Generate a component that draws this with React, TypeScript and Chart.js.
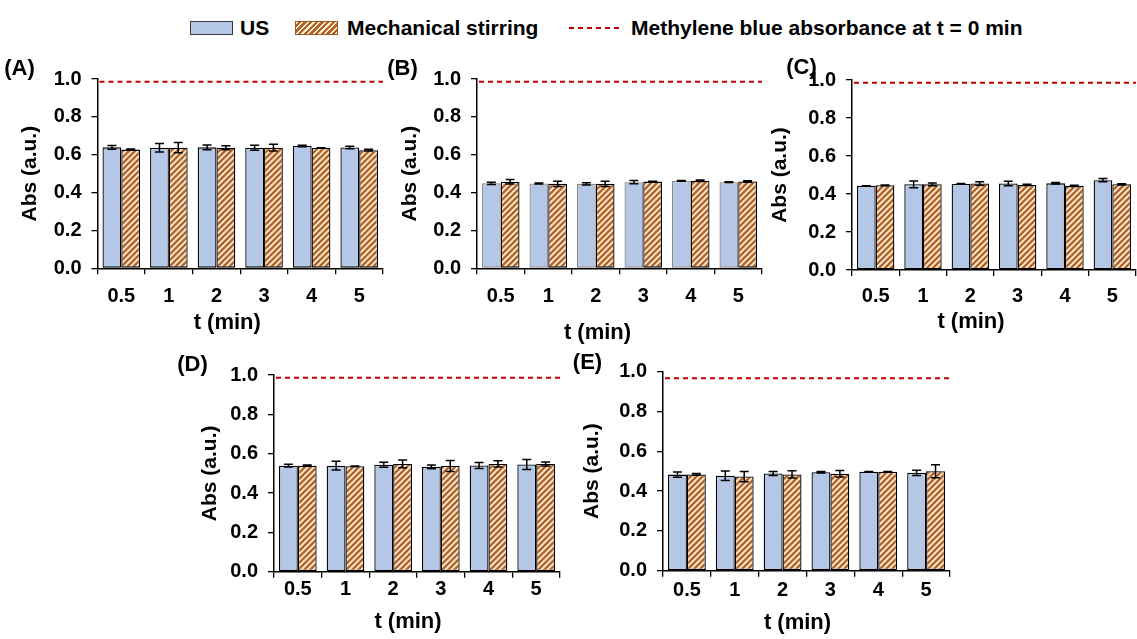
import React, { useEffect, useRef } from 'react';
import { Chart, registerables } from 'chart.js';

Chart.register(...registerables);

// ---------------- DATA ----------------
const categories = ['0.5', '1', '2', '3', '4', '5'];
const yTickValues = [0, 0.2, 0.4, 0.6, 0.8, 1.0];

const usA = [0.639, 0.637, 0.639, 0.637, 0.646, 0.638];
const usErrA = [0.010, 0.022, 0.013, 0.013, 0.004, 0.007];
const msA = [0.627, 0.637, 0.637, 0.637, 0.636, 0.624];
const msErrA = [0.003, 0.027, 0.011, 0.018, 0.001, 0.005];

const usB = [0.449, 0.448, 0.446, 0.455, 0.462, 0.455];
const usErrB = [0.006, 0.003, 0.006, 0.009, 0.002, 0.002];
const msB = [0.457, 0.446, 0.446, 0.458, 0.463, 0.459];
const msErrB = [0.012, 0.014, 0.014, 0.002, 0.004, 0.004];

const usC = [0.443, 0.451, 0.453, 0.455, 0.456, 0.473];
const usErrC = [0.001, 0.018, 0.002, 0.012, 0.004, 0.008];
const msC = [0.446, 0.451, 0.455, 0.448, 0.443, 0.451];
const msErrC = [0.002, 0.007, 0.009, 0.003, 0.003, 0.003];

const usD = [0.539, 0.539, 0.544, 0.533, 0.540, 0.545];
const usErrD = [0.007, 0.022, 0.013, 0.009, 0.015, 0.025];
const msD = [0.539, 0.536, 0.548, 0.537, 0.548, 0.548];
const msErrD = [0.003, 0.001, 0.020, 0.028, 0.016, 0.010];

const usE = [0.483, 0.477, 0.489, 0.495, 0.497, 0.492];
const usErrE = [0.013, 0.024, 0.010, 0.004, 0.001, 0.013];
const msE = [0.484, 0.473, 0.484, 0.487, 0.497, 0.500];
const msErrE = [0.004, 0.026, 0.018, 0.016, 0.001, 0.033];

// methylene blue absorbance at t = 0 min (reference line)
const refValues = [0.985, 0.985, 0.985, 0.986, 0.967];

const panelLabels = ['(A)', '(B)', '(C)', '(D)', '(E)'];
const seriesNames = ['US', 'Mechanical stirring'];
const refName = 'Methylene blue absorbance at t = 0 min';
const xTitle = 't (min)';
const yTitle = 'Abs (a.u.)';

const panelData = [
  { us: usA, usErr: usErrA, ms: msA, msErr: msErrA },
  { us: usB, usErr: usErrB, ms: msB, msErr: msErrB },
  { us: usC, usErr: usErrC, ms: msC, msErr: msErrC },
  { us: usD, usErr: usErrD, ms: msD, msErr: msErrD },
  { us: usE, usErr: usErrE, ms: msE, msErr: msErrE },
];

// ---------------- LAYOUT / STYLE ----------------
const FONT = "'Liberation Sans', Arial, Helvetica, sans-serif";
const US_COLOR = '#B4C7E7';
const HATCH_BG = '#FFF0DC';
const HATCH_FG = '#B4662A';
const REF_COLOR = '#C00000';

// box = canvas rect on page; area = desired chart area on page
const layouts = [
  { box: { x: 0, y: 46, w: 386, h: 303 }, area: { l: 97.5, r: 383, t: 79, b: 268.3 }, label: { dx: -78, dy: -10 }, yT: 67.5, xT: { dx: -13, dy: 55 }, xPad: 10, usBorder: '#000' },
  { box: { x: 380, y: 46, w: 385, h: 303 }, area: { l: 477, r: 762, t: 79, b: 268.3 }, label: { dx: -74.5, dy: -10 }, yT: 67, xT: { dx: -22, dy: 65 }, xPad: 10, usBorder: '#8a8a8a' },
  { box: { x: 765, y: 46, w: 372, h: 303 }, area: { l: 852, r: 1136, t: 80, b: 270 }, label: { dx: -50.5, dy: -12 }, yT: 72, xT: { dx: -23, dy: 52 }, xPad: 8, usBorder: '#000' },
  { box: { x: 165, y: 343, w: 398, h: 296 }, area: { l: 274, r: 560, t: 375, b: 571.7 }, label: { dx: -81.5, dy: -10 }, yT: 64, xT: { dx: -9, dy: 50 }, xPad: 0, usBorder: '#000' },
  { box: { x: 563, y: 340, w: 390, h: 299 }, area: { l: 663, r: 950, t: 371.7, b: 570.7 }, label: { dx: -75.5, dy: -9 }, yT: 71, xT: { dx: -9, dy: 52 }, xPad: 2, usBorder: '#000' },
];

function makeHatch(): CanvasPattern | string {
  const s = 6;
  const c = document.createElement('canvas');
  c.width = s;
  c.height = s;
  const g = c.getContext('2d');
  if (!g) return HATCH_FG;
  g.fillStyle = HATCH_BG;
  g.fillRect(0, 0, s, s);
  g.strokeStyle = HATCH_FG;
  g.lineWidth = 2.5;
  g.beginPath();
  g.moveTo(-1, s + 1);
  g.lineTo(s + 1, -1);
  g.moveTo(-1, 1);
  g.lineTo(1, -1);
  g.moveTo(s - 1, s + 1);
  g.lineTo(s + 1, s - 1);
  g.stroke();
  return g.createPattern(c, 'repeat') || HATCH_FG;
}

const errorBarPlugin = {
  id: 'errorBars',
  afterDatasetsDraw(chart: any, _args: any, opts: any) {
    const errs: number[][] = opts.errors || [];
    const ctx = chart.ctx;
    const ys = chart.scales.y;
    chart.data.datasets.forEach((ds: any, i: number) => {
      const e = errs[i];
      if (!e) return;
      const meta = chart.getDatasetMeta(i);
      meta.data.forEach((bar: any, j: number) => {
        const v = ds.data[j];
        const top = ys.getPixelForValue(v + e[j]);
        const bot = ys.getPixelForValue(v - e[j]);
        const x = bar.x;
        ctx.save();
        ctx.strokeStyle = '#000';
        ctx.lineWidth = 1.5;
        ctx.beginPath();
        ctx.moveTo(x, top);
        ctx.lineTo(x, bot);
        ctx.moveTo(x - 4.5, top);
        ctx.lineTo(x + 4.5, top);
        ctx.moveTo(x - 4.5, bot);
        ctx.lineTo(x + 4.5, bot);
        ctx.stroke();
        ctx.restore();
      });
    });
  },
};

const refLinePlugin = {
  id: 'refLine',
  afterDatasetsDraw(chart: any, _args: any, opts: any) {
    const ys = chart.scales.y;
    const a = chart.chartArea;
    const y = ys.getPixelForValue(opts.value);
    const ctx = chart.ctx;
    ctx.save();
    ctx.strokeStyle = REF_COLOR;
    ctx.lineWidth = 2;
    ctx.setLineDash([5, 4]);
    ctx.beginPath();
    ctx.moveTo(a.left + 2, y);
    ctx.lineTo(a.right, y);
    ctx.stroke();
    ctx.restore();
  },
};

const panelTextPlugin = {
  id: 'panelText',
  afterDraw(chart: any, _args: any, opts: any) {
    const ctx = chart.ctx;
    const a = chart.chartArea;
    ctx.save();
    ctx.fillStyle = '#000';
    ctx.textAlign = 'center';
    ctx.textBaseline = 'middle';
    ctx.font = `bold 22px ${FONT}`;
    ctx.fillText(opts.label, a.left + opts.labelDx, a.top + opts.labelDy);
    ctx.font = `bold 22px ${FONT}`;
    ctx.fillText(opts.xTitle, (a.left + a.right) / 2 + opts.xDx, a.bottom + opts.xDy);
    ctx.translate(a.left - opts.yDx, (a.top + a.bottom) / 2);
    ctx.rotate(-Math.PI / 2);
    ctx.font = `bold 21px ${FONT}`;
    ctx.fillText(opts.yTitle, 0, 0);
    ctx.restore();
  },
};

function Panel({ index }: { index: number }) {
  const ref = useRef<HTMLCanvasElement | null>(null);
  const L = layouts[index];
  const D = panelData[index];
  useEffect(() => {
    if (!ref.current) return;
    const hatch = makeHatch();
    const yW = L.area.l - L.box.x;
    const padTop = L.area.t - L.box.y;
    const padRight = L.box.x + L.box.w - L.area.r;
    const xH = L.box.y + L.box.h - L.area.b;
    const chart = new Chart(ref.current, {
      type: 'bar',
      data: {
        labels: categories,
        datasets: [
          {
            label: seriesNames[0],
            data: D.us,
            backgroundColor: US_COLOR,
            borderColor: L.usBorder,
            borderWidth: 1.3,
            borderSkipped: false,
          },
          {
            label: seriesNames[1],
            data: D.ms,
            backgroundColor: hatch as any,
            borderColor: '#000',
            borderWidth: 1.3,
            borderSkipped: false,
          },
        ],
      },
      options: {
        animation: false,
        responsive: true,
        maintainAspectRatio: false,
        events: [],
        layout: { padding: { left: 0, top: padTop, right: padRight, bottom: 0 } },
        datasets: { bar: { categoryPercentage: 0.79, barPercentage: 1 } },
        plugins: {
          legend: { display: false },
          tooltip: { enabled: false },
          title: { display: false },
          errorBars: { errors: [D.usErr, D.msErr] },
          refLine: { value: refValues[index] },
          panelText: {
            label: panelLabels[index],
            labelDx: L.label.dx,
            labelDy: L.label.dy,
            xTitle,
            yTitle,
            xDx: L.xT.dx,
            xDy: L.xT.dy,
            yDx: L.yT,
          },
        } as any,
        scales: {
          x: {
            type: 'category',
            offset: true,
            afterFit: (s: any) => { s.height = xH; },
            grid: { display: true, drawOnChartArea: false, drawTicks: true, tickLength: 6, color: '#000', lineWidth: 1.3, offset: true },
            border: { display: true, color: '#000', width: 1.5 },
            ticks: { color: '#000', font: { family: FONT, size: 20, weight: 'bold' }, padding: L.xPad, maxRotation: 0, autoSkip: false },
          },
          y: {
            type: 'linear',
            min: yTickValues[0],
            max: yTickValues[yTickValues.length - 1],
            afterFit: (s: any) => { s.width = yW; },
            afterBuildTicks: (s: any) => { s.ticks = yTickValues.map((v) => ({ value: v })); },
            grid: { display: true, drawOnChartArea: false, drawTicks: true, tickLength: 6, color: '#000', lineWidth: 1.3 },
            border: { display: true, color: '#000', width: 1.5 },
            ticks: {
              color: '#000',
              font: { family: FONT, size: 20, weight: 'bold' },
              padding: 10,
              callback: (v: any) => Number(v).toFixed(1),
            },
          },
        },
      },
      plugins: [errorBarPlugin, refLinePlugin, panelTextPlugin],
    } as any);
    return () => chart.destroy();
  }, [index]);
  return (
    <div style={{ position: 'absolute', left: L.box.x, top: L.box.y, width: L.box.w, height: L.box.h }}>
      <canvas ref={ref} />
    </div>
  );
}

function Legend() {
  const text: React.CSSProperties = {
    position: 'absolute',
    top: 17,
    fontFamily: FONT,
    fontWeight: 'bold',
    fontSize: 21,
    lineHeight: '21px',
    color: '#000',
    whiteSpace: 'nowrap',
  };
  return (
    <>
      <div style={{ position: 'absolute', left: 190, top: 21, width: 43, height: 14, boxSizing: 'border-box', background: US_COLOR, border: '1.5px solid #3a3a3a' }} />
      <div style={{ ...text, left: 240 }}>{seriesNames[0]}</div>
      <div
        style={{
          position: 'absolute', left: 295, top: 21, width: 43, height: 14, boxSizing: 'border-box',
          border: '1.5px solid #9a5a28',
          background: `repeating-linear-gradient(135deg, ${HATCH_BG} 0px, ${HATCH_BG} 1.6px, ${HATCH_FG} 1.6px, ${HATCH_FG} 4px)`,
        }}
      />
      <div style={{ ...text, left: 347 }}>{seriesNames[1]}</div>
      <div
        style={{
          position: 'absolute', left: 569, top: 27, width: 54, height: 2,
          background: `repeating-linear-gradient(90deg, ${REF_COLOR} 0px, ${REF_COLOR} 5px, transparent 5px, transparent 9px)`,
        }}
      />
      <div style={{ ...text, left: 631 }}>{refName}</div>
    </>
  );
}

export default function App() {
  return (
    <div style={{ position: 'absolute', left: 0, top: 0, width: 1137, height: 639, background: '#fff', overflow: 'hidden' }}>
      <Legend />
      {layouts.map((_, i) => (
        <Panel key={i} index={i} />
      ))}
    </div>
  );
}
